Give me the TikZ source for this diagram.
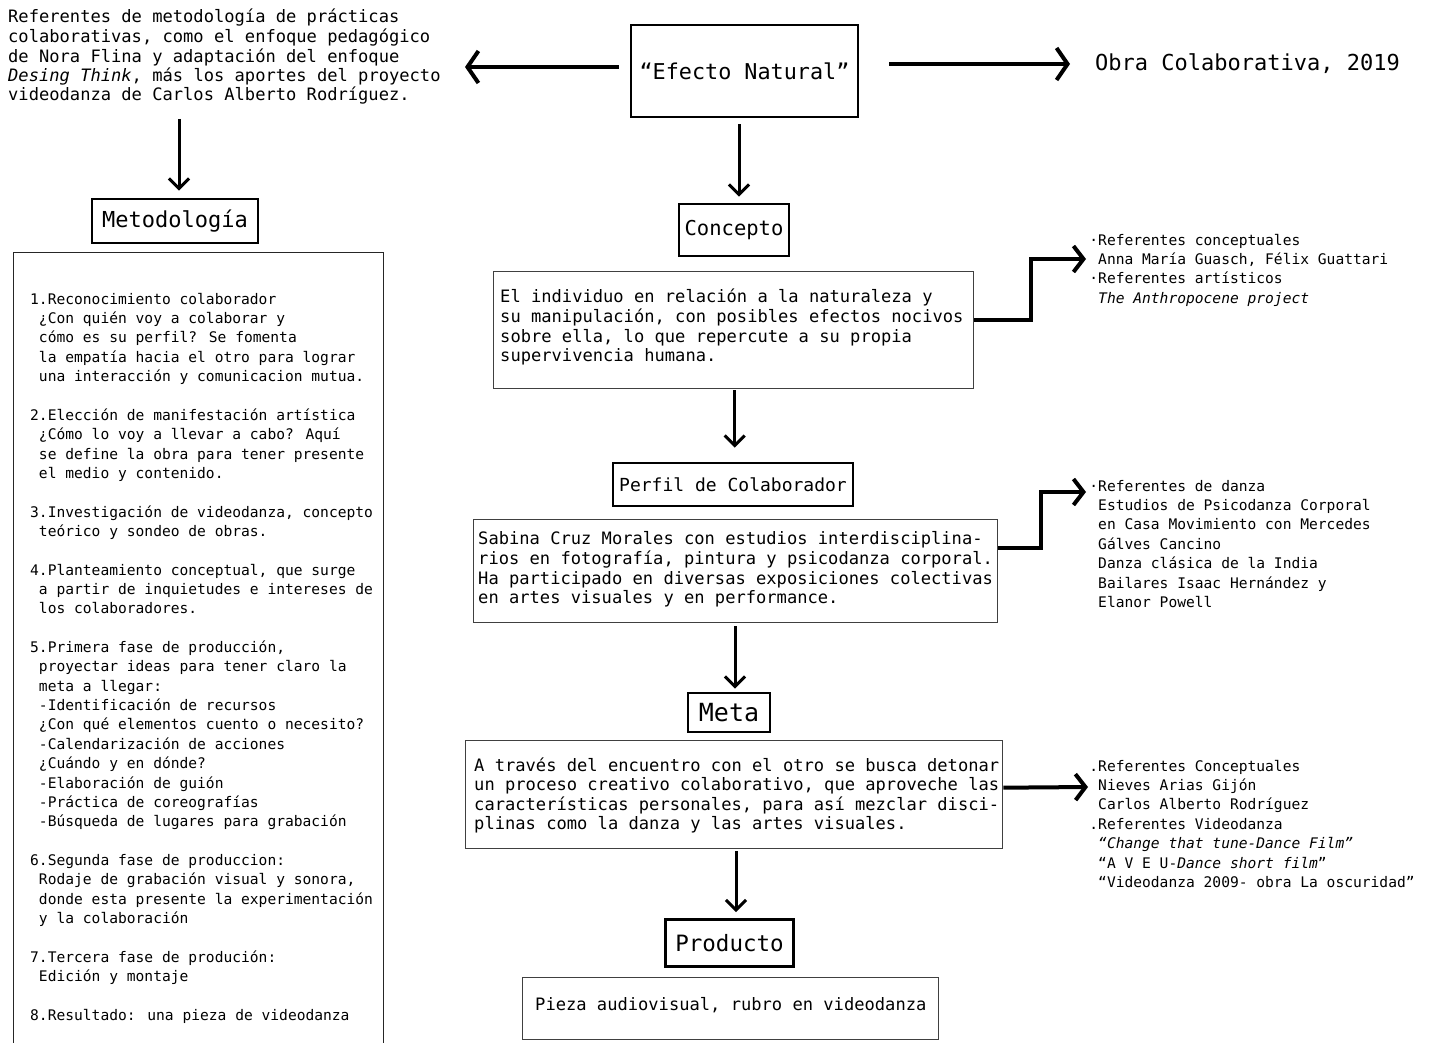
\documentclass[tikz,border=0pt]{standalone}
\usepackage{fontspec}
\usetikzlibrary{arrows.meta}
\newfontfamily\mono{DejaVu Sans Mono}
\newcommand\fsz[1]{\fontsize{#1}{19.35}\selectfont\mono}
\tikzset{
  titlebox/.style={draw, line width=2.8pt, inner sep=0pt},
  textbox/.style={draw=black!75, line width=1.4pt, inner sep=0pt},
  txt/.style={anchor=north west, inner sep=0pt, align=left},
  harr/.style={line width=4.5pt, -{Straight Barb[length=11pt,width=32pt,line width=4pt]}},
  varr/.style={line width=3pt, -{Straight Barb[length=10pt,width=20pt,line width=3pt]}},
  rarr/.style={line width=4pt, -{Straight Barb[length=10pt,width=26pt,line width=4pt]}},
  elbow/.style={line width=4pt, line join=miter}
}
\begin{document}
\begin{tikzpicture}[x=1pt,y=-1pt]
\useasboundingbox (0,0) rectangle (1429,1043);
\fill[white] (0,0) rectangle (1429,1043);
\clip (0,0) rectangle (1429,1043);

% top row
\node[titlebox, minimum width=227pt, minimum height=92pt, font=\fsz{21.8}] (efecto) at (744.5,71) {“Efecto Natural”};
\node[anchor=west, inner sep=0pt, font=\fsz{22}] (obra) at (1095,64) {Obra Colaborativa, 2019};
\node[txt, font=\fsz{17.1}] (topleft) at (8,8.5) {\strut Referentes de metodología de prácticas\\
colaborativas, como el enfoque pedagógico\\
de Nora Flina y adaptación del enfoque\\
\textit{Desing Think}, más los aportes del proyecto\\
videodanza de Carlos Alberto Rodríguez.};

\coordinate (tipL) at (465,67);
\draw[harr, shorten <=11pt] ([yshift=4pt]efecto.west) -- (tipL);
\draw[harr, shorten <=30pt, shorten >=25pt] ([yshift=7pt]efecto.east) -- (obra.west);

% left column
\node[titlebox, minimum width=166pt, minimum height=44pt, font=\fsz{22}] (metod) at (175,221) {Metodología};
\draw[varr, shorten <=14pt, shorten >=7pt] ([xshift=4pt]topleft.south -| metod.north) -- ([xshift=4pt]metod.north);

\node[draw=black!85, line width=1.4pt, inner sep=0pt, minimum width=370pt, minimum height=830pt, anchor=north west] (metbox) at (13,252) {};
\node[txt, font=\fsz{14.6}] (items) at (30,290.5) {\strut 1.Reconocimiento colaborador\\
\phantom{1}¿Con quién voy a colaborar y\\
\phantom{1}cómo es su perfil? Se fomenta\\
\phantom{1}la empatía hacia el otro para lograr\\
\phantom{1}una interacción y comunicacion mutua.\\[\baselineskip]
2.Elección de manifestación artística\\
\phantom{1}¿Cómo lo voy a llevar a cabo? Aquí\\
\phantom{1}se define la obra para tener presente\\
\phantom{1}el medio y contenido.\\[\baselineskip]
3.Investigación de videodanza, concepto\\
\phantom{1}teórico y sondeo de obras.\\[\baselineskip]
4.Planteamiento conceptual, que surge\\
\phantom{1}a partir de inquietudes e intereses de\\
\phantom{1}los colaboradores.\\[\baselineskip]
5.Primera fase de producción,\\
\phantom{1}proyectar ideas para tener claro la\\
\phantom{1}meta a llegar:\\
\phantom{1}-Identificación de recursos\\
\phantom{1}¿Con qué elementos cuento o necesito?\\
\phantom{1}-Calendarización de acciones\\
\phantom{1}¿Cuándo y en dónde?\\
\phantom{1}-Elaboración de guión\\
\phantom{1}-Práctica de coreografías\\
\phantom{1}-Búsqueda de lugares para grabación\\[\baselineskip]
6.Segunda fase de produccion:\\
\phantom{1}Rodaje de grabación visual y sonora,\\
\phantom{1}donde esta presente la experimentación\\
\phantom{1}y la colaboración\\[\baselineskip]
7.Tercera fase de produción:\\
\phantom{1}Edición y montaje\\[\baselineskip]
8.Resultado: una pieza de videodanza};

% center column
\node[titlebox, minimum width=110pt, minimum height=52pt, font=\fsz{20.5}] (concepto) at (734,230) {Concepto};
\draw[varr, shorten <=6pt, shorten >=6pt] ([xshift=-5.5pt]efecto.south) -- ([xshift=-5.5pt]efecto.south |- concepto.north);

\node[textbox, minimum width=480pt, minimum height=117pt, anchor=north west] (cbox) at (493,271) {};
\node[txt, font=\fsz{17.1}] (ctext) at (500,288.5) {\strut El individuo en relación a la naturaleza y\\
su manipulación, con posibles efectos nocivos\\
sobre ella, lo que repercute a su propia\\
supervivencia humana.};

\node[titlebox, minimum width=240pt, minimum height=43pt, font=\fsz{18}] (perfil) at (733,484.5) {Perfil de Colaborador};
\draw[varr, shorten <=1pt, shorten >=14pt] ([xshift=1pt]cbox.south) -- ([xshift=1pt]cbox.south |- perfil.north);

\node[textbox, minimum width=524pt, minimum height=103pt, anchor=north west] (pbox) at (473,519) {};
\node[txt, font=\fsz{17.1}] (ptext) at (478,530.5) {\strut Sabina Cruz Morales con estudios interdisciplina-\\
rios en fotografía, pintura y psicodanza corporal.\\
Ha participado en diversas exposiciones colectivas\\
en artes visuales y en performance.};

\node[titlebox, minimum width=82pt, minimum height=39pt, font=\fsz{25}] (meta) at (729,712.5) {Meta};
\draw[varr, shorten <=3pt, shorten >=3pt] ([xshift=-0pt]pbox.south -| 735,0) -- (meta.north -| 735,0);

\node[textbox, minimum width=537pt, minimum height=108pt, anchor=north west] (mbox) at (465,740) {};
\node[txt, font=\fsz{17.1}] (mtext) at (474,757.5) {\strut A través del encuentro con el otro se busca detonar\\
un proceso creativo colaborativo, que aproveche las\\
características personales, para así mezclar disci-\\
plinas como la danza y las artes visuales.};

\node[titlebox, minimum width=128pt, minimum height=47pt, font=\fsz{22.5}] (producto) at (729.5,943) {Producto};
\draw[varr, shorten <=2pt, shorten >=6pt] (mbox.south -| 736,0) -- (producto.north -| 736,0);

\node[textbox, minimum width=416pt, minimum height=62pt, anchor=north west] (pieza) at (522,977) {};
\node[anchor=west, inner sep=0pt, font=\fsz{17.1}] (ptxt) at (535,1005) {Pieza audiovisual, rubro en videodanza};

% right column references
\node[txt, font=\fsz{14.6}] (refs1) at (1098,231.5) {\strut\llap{·}Referentes conceptuales\\
Anna María Guasch, Félix Guattari\\
\llap{·}Referentes artísticos\\
\textit{The Anthropocene project}};

\node[txt, font=\fsz{14.6}] (refs2) at (1098,477.5) {\strut\llap{·}Referentes de danza\\
Estudios de Psicodanza Corporal\\
en Casa Movimiento con Mercedes\\
Gálves Cancino\\
Danza clásica de la India\\
Bailares Isaac Hernández y\\
Elanor Powell};

\node[txt, font=\fsz{14.6}] (refs3) at (1098,757.5) {\strut\llap{.}Referentes Conceptuales\\
Nieves Arias Gijón\\
Carlos Alberto Rodríguez\\
\llap{.}Referentes Videodanza\\
\textit{“Change that tune-Dance Film”}\\
“A V E U-\textit{Dance short film}”\\
“Videodanza 2009- obra La oscuridad”};

\coordinate (tip1) at (1086,259);
\coordinate (tip2) at (1086,492);
\coordinate (tip3) at (1088,787);
\draw[rarr] ([yshift=10.5pt]cbox.east) -- ++(57,0) |- (tip1);
\draw[rarr] ([yshift=23.5pt]pbox.east) -- ++(43,0) |- (tip2);
\draw[rarr] ([yshift=7pt]mbox.east) -- (tip3);
\end{tikzpicture}
\end{document}
